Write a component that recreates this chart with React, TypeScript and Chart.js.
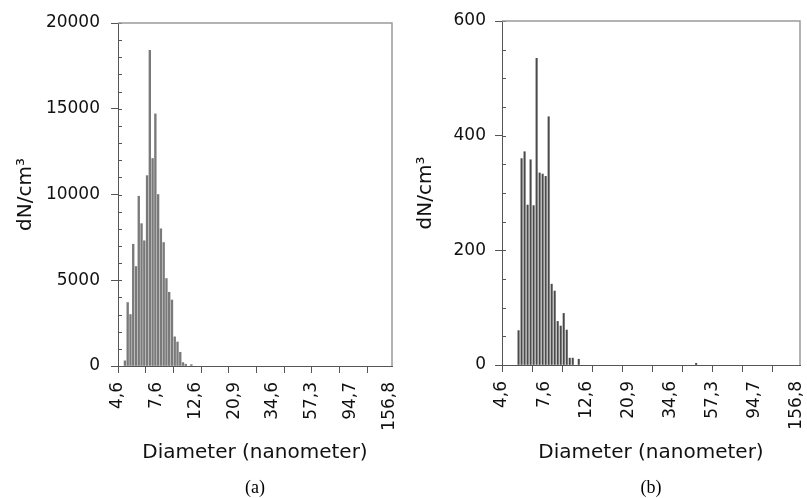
import { useEffect, useRef } from "react";
import { Chart, registerables } from "chart.js";

Chart.register(...registerables);

// 99 SMPS size channels (64 per decade), slot index 0..98; labels sit on slot edges
const xLabelSlots = [0, 14, 28, 42, 56, 70, 84, 98];
const xLabels = ["4,6", "7,6", "12,6", "20,9", "34,6", "57,3", "94,7", "156,8"];
const xMarkSlots = [0, 10, 20, 30, 40, 50, 60, 70, 80, 90];

// panel (a) counts per channel
const countsA = [
  0, 0, 300, 3700, 3000, 7100, 5800, 9900, 8300, 7300,
  11100, 18400, 12100, 14700, 10000, 8000, 7200, 5100, 4300, 3850,
  1700, 1400, 800, 200, 100, 0, 80, 0, 0, 0,
  0, 0, 0, 0, 0, 0, 0, 0, 0, 0,
  0, 0, 0, 0, 0, 0, 0, 0, 0, 0,
  0, 0, 0, 0, 0, 0, 0, 0, 0, 0,
  0, 0, 0, 0, 0, 0, 0, 0, 0, 0,
  0, 0, 0, 0, 0, 0, 0, 0, 0, 0,
  0, 0, 0, 0, 0, 0, 0, 0, 0, 0,
  0, 0, 0, 0, 0, 0, 0, 0, 0,
];

// panel (b) counts per channel
const countsB = [
  0, 0, 0, 0, 0, 60, 360, 372, 279, 358,
  278, 535, 335, 333, 329, 433, 141, 129, 76, 68,
  90, 61, 12, 12, 0, 10, 0, 0, 0, 0,
  0, 0, 0, 0, 0, 0, 0, 0, 0, 0,
  0, 0, 0, 0, 0, 0, 0, 0, 0, 0,
  0, 0, 0, 0, 0, 0, 0, 0, 0, 0,
  0, 0, 0, 0, 3, 0, 0, 0, 0, 0,
  0, 0, 0, 0, 0, 0, 0, 0, 0, 0,
  0, 0, 0, 0, 0, 0, 0, 0, 0, 0,
  0, 0, 0, 0, 0, 0, 0, 0, 0,
];

const yMajorA = [0, 5000, 10000, 15000, 20000];
const yMinorStepA = 1000;
const yMajorB = [0, 200, 400, 600];
const yMinorStepB = 50;

const FONT = "DejaVu Sans";

const decorPlugin = {
  id: "decor",
  afterDraw(chart: any, _args: any, opts: any) {
    const { ctx, chartArea: a, scales } = chart;
    const y = scales.y;
    ctx.save();
    ctx.strokeStyle = "#555";
    ctx.lineWidth = 1;
    ctx.beginPath();
    y.ticks.forEach((t: any) => {
      const py = Math.round(y.getPixelForValue(t.value)) + 0.5;
      ctx.moveTo(a.left, py);
      ctx.lineTo(a.left + 4, py);
    });
    ctx.stroke();
    ctx.strokeStyle = "#9a9a9a";
    ctx.lineWidth = 1.5;
    ctx.beginPath();
    ctx.moveTo(a.left, a.top);
    ctx.lineTo(a.right, a.top);
    ctx.lineTo(a.right, a.bottom);
    ctx.stroke();
    ctx.fillStyle = "#000";
    ctx.font = '18px "Liberation Serif"';
    ctx.textAlign = "center";
    ctx.textBaseline = "middle";
    ctx.fillText(opts.caption, (a.left + a.right) / 2, 488);
    ctx.restore();
  },
};

type PanelProps = {
  counts: number[];
  yMajor: number[];
  yMinorStep: number;
  caption: string;
  width: number;
  left: number;
  yWidth: number;
  padRight: number;
  padTop: number;
  xHeight: number;
  yLabelPad: number;
  barThickness: number;
  barColor: string;
};

function Panel(p: PanelProps) {
  const ref = useRef<HTMLCanvasElement>(null);
  useEffect(() => {
    if (!ref.current) return;
    const yMax = p.yMajor[p.yMajor.length - 1];
    const yTicks: number[] = [];
    for (let v = 0; v <= yMax; v += p.yMinorStep) yTicks.push(v);
    const xTicks = Array.from(new Set([...xMarkSlots, ...xLabelSlots])).sort((a, b) => a - b);
    const chart = new Chart(ref.current, {
      type: "bar",
      data: {
        datasets: [
          {
            data: p.counts.map((v, i) => ({ x: i + 0.5, y: v > 0 ? v : null })),
            backgroundColor: p.barColor,
            borderWidth: 0,
            barThickness: p.barThickness,
          } as any,
        ],
      },
      plugins: [decorPlugin as any],
      options: {
        animation: false,
        responsive: false,
        events: [],
        layout: { padding: { left: 0, right: p.padRight, top: p.padTop, bottom: 33 } },
        plugins: {
          legend: { display: false },
          tooltip: { enabled: false },
          decor: { caption: p.caption },
        } as any,
        scales: {
          x: {
            type: "linear",
            min: 0,
            max: 99,
            offset: false,
            afterBuildTicks: (s: any) => {
              s.ticks = xTicks.map((v) => ({ value: v }));
            },
            afterFit: (s: any) => {
              s.height = p.xHeight;
              s.paddingLeft = 0;
              s.paddingRight = 0;
              s.paddingTop = 0;
              s.paddingBottom = 0;
            },
            grid: {
              offset: false,
              drawOnChartArea: false,
              drawTicks: true,
              tickLength: 7,
              tickColor: (c: any) =>
                c.tick && xMarkSlots.includes(c.tick.value) ? "#555" : "rgba(0,0,0,0)",
            },
            border: { display: true, color: "#555", width: 1 },
            ticks: {
              autoSkip: false,
              minRotation: 90,
              maxRotation: 90,
              padding: 9,
              color: "#111",
              font: { family: FONT, size: 17 },
              callback: (v: any) => {
                const k = xLabelSlots.indexOf(Number(v));
                return k >= 0 ? xLabels[k] : "";
              },
            },
            title: {
              display: true,
              text: "Diameter (nanometer)",
              color: "#111",
              font: { family: FONT, size: 20 },
              padding: { top: 0, bottom: 0 },
            },
          },
          y: {
            type: "linear",
            min: 0,
            max: yMax,
            afterBuildTicks: (s: any) => {
              s.ticks = yTicks.map((v) => ({ value: v }));
            },
            afterFit: (s: any) => {
              s.width = p.yWidth;
              s.paddingLeft = 0;
              s.paddingRight = 0;
              s.paddingTop = 0;
              s.paddingBottom = 0;
            },
            grid: {
              drawOnChartArea: false,
              drawTicks: true,
              tickLength: 7,
              tickColor: (c: any) =>
                c.tick && p.yMajor.includes(c.tick.value) ? "#555" : "rgba(0,0,0,0)",
            },
            border: { display: true, color: "#555", width: 1 },
            ticks: {
              autoSkip: false,
              padding: p.yLabelPad,
              color: "#111",
              font: { family: FONT, size: 17 },
              callback: (v: any) => (p.yMajor.includes(Number(v)) ? String(v) : ""),
            },
            title: {
              display: true,
              text: "dN/cm³",
              color: "#111",
              font: { family: FONT, size: 20 },
              padding: { top: 14, bottom: 0 },
            },
          },
        },
      } as any,
    });
    return () => chart.destroy();
  }, []);
  return (
    <canvas
      ref={ref}
      width={p.width}
      height={498}
      style={{ position: "absolute", left: p.left, top: 0, width: p.width, height: 498 }}
    />
  );
}

export default function App() {
  return (
    <div style={{ position: "absolute", left: 0, top: 0, width: 807, height: 498, background: "#fff" }}>
      <Panel
        counts={countsA}
        yMajor={yMajorA}
        yMinorStep={yMinorStepA}
        caption="(a)"
        width={400}
        left={0}
        yWidth={118}
        padRight={8}
        padTop={23}
        xHeight={99}
        yLabelPad={11}
        barThickness={1.7}
        barColor="#7a7a7a"
      />
      <Panel
        counts={countsB}
        yMajor={yMajorB}
        yMinorStep={yMinorStepB}
        caption="(b)"
        width={407}
        left={400}
        yWidth={102}
        padRight={7}
        padTop={21}
        xHeight={100}
        yLabelPad={9}
        barThickness={1.4}
        barColor="#4a4a4a"
      />
    </div>
  );
}
